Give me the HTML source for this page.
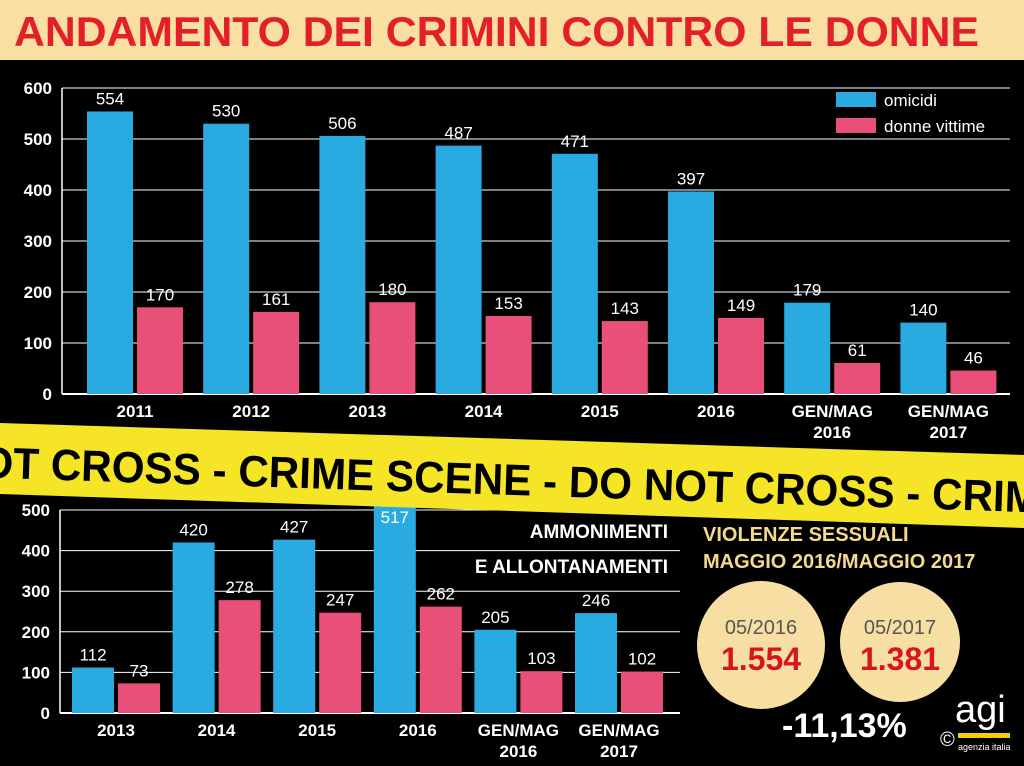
<!DOCTYPE html>
<html><head><meta charset="utf-8"><style>
body{margin:0;width:1024px;height:761px;background:#000;overflow:hidden;font-family:"Liberation Sans",sans-serif}
svg text{font-family:"Liberation Sans",sans-serif}
</style></head><body>
<svg width="1024" height="761" viewBox="0 0 1024 761">
<rect x="0" y="0" width="1024" height="60" fill="#f9e0a2"/>
<text x="14" y="46" font-size="42" font-weight="bold" fill="#e3202a" textLength="965" lengthAdjust="spacingAndGlyphs">ANDAMENTO DEI CRIMINI CONTRO LE DONNE</text>
<g id="top"></g>
<g id="bot"></g>
<g>
<polygon points="0,423 1024,455 1024,528 0,494" fill="#f5e526"/>
<text x="-20" y="478" font-size="44" font-weight="bold" fill="#000" transform="rotate(1.9 0 478)" textLength="1060" lengthAdjust="spacingAndGlyphs">OT CROSS - CRIME SCENE  -  DO NOT CROSS - CRIM</text>
</g>
<text x="668" y="538" font-size="19" font-weight="bold" fill="#fff" text-anchor="end">AMMONIMENTI</text>
<text x="668" y="573" font-size="19" font-weight="bold" fill="#fff" text-anchor="end">E ALLONTANAMENTI</text>
<text x="703" y="541" font-size="20" font-weight="bold" fill="#f3da8c">VIOLENZE SESSUALI</text>
<text x="703" y="568" font-size="20" font-weight="bold" fill="#f3da8c">MAGGIO 2016/MAGGIO 2017</text>
<circle cx="761" cy="645" r="64" fill="#f7dfa3"/>
<circle cx="900" cy="642" r="60" fill="#f7dfa3"/>
<text x="761" y="634" font-size="20" fill="#555" text-anchor="middle">05/2016</text>
<text x="761" y="670" font-size="32" font-weight="bold" fill="#d9141f" text-anchor="middle">1.554</text>
<text x="900" y="634" font-size="20" fill="#555" text-anchor="middle">05/2017</text>
<text x="900" y="670" font-size="32" font-weight="bold" fill="#d9141f" text-anchor="middle">1.381</text>
<text x="782" y="737" font-size="34" font-weight="bold" fill="#fff">-11,13%</text>
<text x="955" y="722" font-size="38" fill="#fff">agi</text>
<rect x="958" y="733" width="52" height="5" fill="#f5d000"/>
<text x="958" y="750" font-size="9" fill="#fff">agenzia italia</text>
<text x="940" y="746" font-size="20" fill="#fff">©</text>
</svg>
<script>
const topCats=["2011","2012","2013","2014","2015","2016","GEN/MAG|2016","GEN/MAG|2017"];
const topOmicidi=[554,530,506,487,471,397,179,140];
const topDonne=[170,161,180,153,143,149,61,46];
const topTicks=[0,100,200,300,400,500,600];
const botCats=["2013","2014","2015","2016","GEN/MAG|2016","GEN/MAG|2017"];
const botBlue=[112,420,427,517,205,246];
const botPink=[73,278,247,262,103,102];
const botTicks=[0,100,200,300,400,500];
const NS="http://www.w3.org/2000/svg";
function mk(p,t,a,txt){const e=document.createElementNS(NS,t);for(const k in a)e.setAttribute(k,a[k]);if(txt!=null)e.textContent=txt;p.appendChild(e);return e;}
function chart(g,o){
 const y=v=>o.y0-v*o.k;
 o.ticks.forEach(t=>{
  const l=mk(g,'line',{x1:o.x0,x2:o.x1,y1:y(t),y2:y(t),stroke:'#fff','stroke-width':t===0?2:1});
  
  
  const tx=mk(g,'text',{x:o.x0-10,y:y(t)+6,'font-size':17,'font-weight':'bold',fill:'#fff','text-anchor':'end'},t);
  
  
 });
 mk(g,'line',{x1:o.x0,x2:o.x0,y1:y(o.ticks[o.ticks.length-1]),y2:o.y0,stroke:'#fff','stroke-width':1.5});
 o.cats.forEach((c,i)=>{
  const bx=o.start+i*o.step;
  [[o.a,'#29abe2',0],[o.b,'#e8507a',o.bw+4]].forEach(([arr,col,off])=>{
   const v=arr[i];
   const r=mk(g,'rect',{x:bx+off,y:y(v),width:o.bw,height:o.y0-y(v),fill:col});
   
   
   const inside=y(v)<o.clip;
   const t=mk(g,'text',{x:bx+off+o.bw/2,y:inside?y(v)+20:y(v)-7,'font-size':17,fill:'#fff','text-anchor':'middle'},v);
   
   
  });
  c.split('|').forEach((p,j)=>{
   const t=mk(g,'text',{x:bx+o.bw+2,y:o.y0+23+j*21,'font-size':17,'font-weight':'bold',fill:'#fff','text-anchor':'middle'},p);
   
   
  });
 });
}
chart(document.getElementById('top'),{cats:topCats,a:topOmicidi,b:topDonne,ticks:topTicks,y0:394,k:0.51,x0:62,x1:1010,start:87,step:116.2,bw:46,clip:0});
chart(document.getElementById('bot'),{cats:botCats,a:botBlue,b:botPink,ticks:botTicks,y0:713,k:0.406,x0:60,x1:680,start:72,step:100.6,bw:42,clip:515});
const g=document.getElementById('top');
[['#29abe2','omicidi',92],['#e8507a','donne vittime',118]].forEach(([c,l,yy])=>{
 const r=mk(g,'rect',{x:836,y:yy,width:40,height:15,fill:c});
 
 
 const t=mk(g,'text',{x:884,y:yy+14,'font-size':17,fill:'#fff'},l);
 
 
});
</script>
</body></html>
